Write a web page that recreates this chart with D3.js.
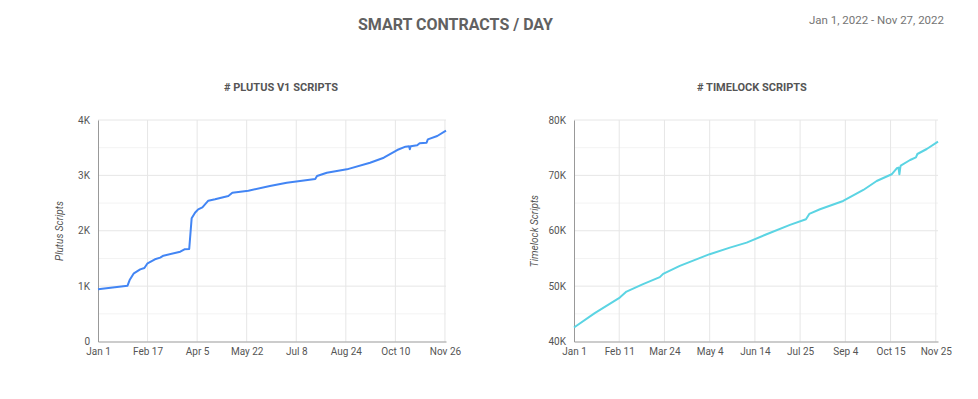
<html>
<head>
<script src="https://d3js.org/d3.v7.min.js"></script>
<style>
  body { margin: 0; background: #fff; }
  svg { display: block; font-family: Roboto, sans-serif; }
</style>
</head>
<body>
<svg width="978" height="399"></svg>
<script>
// data: day offset from Jan 1 2022, value
var plutusDays = [0, 28, 30, 34, 40, 44, 47, 54, 59, 62, 78, 82, 86.5, 88.8, 92, 95, 99, 104.6, 111, 123.6, 127.4, 142.6, 163, 179, 206, 207.7, 217, 236, 258, 271, 283.7, 291.6, 295, 295.7, 296.5, 302.7, 305, 311.6, 312.8, 321.7, 330];
var plutusValues = [943, 1008, 1110, 1231, 1303, 1327, 1412, 1484, 1514, 1550, 1622, 1665, 1670, 2224, 2326, 2387, 2423, 2543, 2568, 2627, 2687, 2723, 2808, 2868, 2934, 2988, 3048, 3109, 3229, 3319, 3458, 3518, 3525, 3470, 3525, 3543, 3579, 3590, 3651, 3711, 3807];

var timelockDays = [0, 18.8, 41.5, 47.6, 62.6, 77.8, 80.8, 95.9, 123, 141.3, 156.5, 174.6, 195.8, 210.3, 213.3, 223, 244, 262.3, 274.4, 288, 292.6, 294.2, 295, 295.8, 296.2, 304.7, 310, 311.3, 319.8, 330];
var timelockValues = [42526, 45124, 47938, 49020, 50355, 51618, 52213, 53656, 55767, 56958, 57860, 59375, 61053, 62081, 63037, 63885, 65382, 67367, 68990, 70198, 71280, 71400, 70198, 71400, 71750, 72778, 73265, 73860, 74762, 76079];

var plutusTickDays = [0, 47, 94, 141, 188, 235, 282, 329];
var plutusTickLabels = ["Jan 1", "Feb 17", "Apr 5", "May 22", "Jul 8", "Aug 24", "Oct 10", "Nov 26"];
var timelockTickDays = [0, 41, 82, 123, 164, 205, 246, 287, 328];
var timelockTickLabels = ["Jan 1", "Feb 11", "Mar 24", "May 4", "Jun 14", "Jul 25", "Sep 4", "Oct 15", "Nov 25"];

var plutusYTicks = [0, 1000, 2000, 3000, 4000];
var plutusYLabels = ["0", "1K", "2K", "3K", "4K"];
var timelockYTicks = [40000, 50000, 60000, 70000, 80000];
var timelockYLabels = ["40K", "50K", "60K", "70K", "80K"];

var start = new Date(2022, 0, 1);
function day(d) { return start.getTime() + d * 864e5; }

var svg = d3.select("svg");

// header
svg.append("text").attr("x", 358).attr("y", 30)
  .attr("textLength", 195).attr("lengthAdjust", "spacingAndGlyphs")
  .style("font-size", "17px").style("font-weight", "bold").attr("fill", "#616161")
  .text("SMART CONTRACTS / DAY");
svg.append("text").attr("x", 809).attr("y", 24)
  .attr("textLength", 135).attr("lengthAdjust", "spacingAndGlyphs")
  .style("font-size", "11px").attr("fill", "#757575")
  .text("Jan 1, 2022 - Nov 27, 2022");

function chart(o) {
  var x = d3.scaleTime().domain([day(0), day(330)]).range([o.x0, o.x1]);
  var y = d3.scaleLinear().domain(o.yDomain).range([341.5, 120]);
  var g = svg.append("g");

  g.append("text").attr("x", o.titleX).attr("y", 90.5).attr("text-anchor", "middle")
    .style("font-size", "11px").style("font-weight", "bold").attr("fill", "#555")
    .text(o.title);

  // minor + major horizontal grid
  var step = (o.yDomain[1] - o.yDomain[0]) / 8;
  g.append("g").selectAll("line").data(d3.range(1, 8, 2).map(function(i) { return o.yDomain[0] + i * step; }))
    .join("line").attr("x1", o.x0).attr("x2", o.x1)
    .attr("y1", function(d) { return y(d); }).attr("y2", function(d) { return y(d); })
    .attr("stroke", "#f3f3f3");
  g.append("g").selectAll("line").data(o.yTicks.slice(1))
    .join("line").attr("x1", o.x0).attr("x2", o.x1)
    .attr("y1", function(d) { return y(d); }).attr("y2", function(d) { return y(d); })
    .attr("stroke", "#e6e6e6");
  g.append("g").selectAll("line").data(o.tickDays.slice(1))
    .join("line").attr("y1", 120).attr("y2", 341.5)
    .attr("x1", function(d) { return x(day(d)); }).attr("x2", function(d) { return x(day(d)); })
    .attr("stroke", "#e6e6e6");

  // axes
  var xa = g.append("g").attr("transform", "translate(0,341.5)")
    .call(d3.axisBottom(x).tickValues(o.tickDays.map(day)).tickSize(0).tickPadding(6)
      .tickFormat(function(d, i) { return o.tickLabels[i]; }));
  xa.select(".domain").attr("stroke", "#999");
  xa.selectAll("text").style("font-size", "10px").style("font-family", "Roboto").attr("fill", "#555");

  var ya = g.append("g").attr("transform", "translate(" + o.x0 + ",0)")
    .call(d3.axisLeft(y).tickValues(o.yTicks).tickSize(0).tickPadding(8)
      .tickFormat(function(d, i) { return o.yLabels[i]; }));
  ya.select(".domain").attr("stroke", "#999");
  ya.selectAll("text").style("font-size", "10px").style("font-family", "Roboto").attr("fill", "#555");

  g.append("text").attr("transform", "translate(" + o.labelX + ",231) rotate(-90)")
    .attr("text-anchor", "middle").style("font-size", "10px").style("font-style", "italic")
    .attr("fill", "#555").text(o.yTitle);

  var line = d3.line()
    .x(function(d, i) { return x(day(o.days[i])); })
    .y(function(d) { return y(d); });
  g.append("path").datum(o.values).attr("d", line)
    .attr("fill", "none").attr("stroke", o.color).attr("stroke-width", 2)
    .attr("stroke-linejoin", "round");
}

chart({ x0: 98, x1: 446, yDomain: [0, 4000], yTicks: plutusYTicks, yLabels: plutusYLabels,
  tickDays: plutusTickDays, tickLabels: plutusTickLabels, days: plutusDays, values: plutusValues,
  title: "# PLUTUS V1 SCRIPTS", titleX: 281, labelX: 63, yTitle: "Plutus Scripts", color: "#4285f4" });

chart({ x0: 574, x1: 938, yDomain: [40000, 80000], yTicks: timelockYTicks, yLabels: timelockYLabels,
  tickDays: timelockTickDays, tickLabels: timelockTickLabels, days: timelockDays, values: timelockValues,
  title: "# TIMELOCK SCRIPTS", titleX: 752, labelX: 538, yTitle: "Timelock Scripts", color: "#5bd4e3" });
</script>
</body>
</html>
